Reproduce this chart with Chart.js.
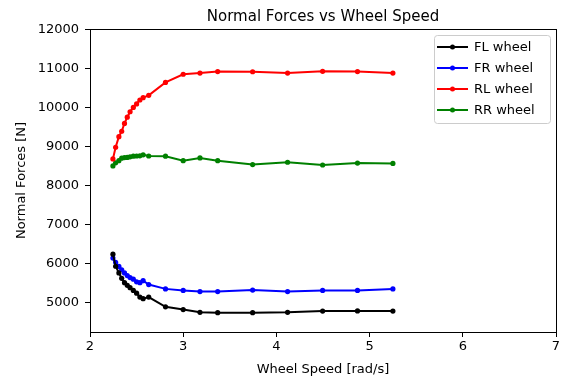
<!DOCTYPE html>
<html>
<head>
<meta charset="utf-8">
<script src="https://cdn.jsdelivr.net/npm/chart.js@4"></script>
<style>
  html, body { margin: 0; padding: 0; background: #fff; }
  #wrap { width: 565px; height: 381px; }
</style>
</head>
<body>
<div id="wrap"><canvas id="forceChart" width="565" height="381"></canvas></div>
<script>
// Wheel speed [rad/s]
const wheelSpeed = [2.246, 2.275, 2.31, 2.34, 2.37, 2.40, 2.43, 2.465, 2.50, 2.535, 2.57,
    2.63, 2.81, 3.0, 3.18, 3.37, 3.745, 4.12, 4.496, 4.87, 5.25];

// Normal forces [N]
const flWheel = [6250, 5940, 5770, 5630, 5520, 5450, 5390, 5320, 5250, 5150, 5110,
    5150, 4900, 4830, 4760, 4750, 4750, 4760, 4790, 4795, 4790];
const frWheel = [6150, 6040, 5935, 5850, 5770, 5700, 5650, 5610, 5540, 5520, 5570,
    5470, 5360, 5320, 5290, 5290, 5330, 5290, 5320, 5320, 5360];
const rlWheel = [8690, 8990, 9260, 9400, 9600, 9760, 9900, 10010, 10100, 10200, 10260,
    10320, 10650, 10860, 10890, 10930, 10925, 10890, 10935, 10930, 10890];
const rrWheel = [8510, 8590, 8645, 8710, 8725, 8730, 8745, 8760, 8765, 8770, 8795,
    8765, 8760, 8645, 8715, 8645, 8545, 8605, 8535, 8585, 8575];

const seriesLabels = ['FL wheel', 'FR wheel', 'RL wheel', 'RR wheel'];
const seriesColors = ['#000000', '#0000ff', '#ff0000', '#008000'];
const xTicks = [2, 3, 4, 5, 6, 7];
const yTicks = [5000, 6000, 7000, 8000, 9000, 10000, 11000, 12000];

const FONT = 'DejaVu Sans';

function toPoints(ys) {
    return wheelSpeed.map((x, i) => ({ x: x, y: ys[i] }));
}

// frame, title and legend the matplotlib way
const mplDecor = {
    id: 'mplDecor',
    afterDraw(chart) {
        const ctx = chart.ctx;
        const a = chart.chartArea;
        ctx.save();
        ctx.strokeStyle = '#000';
        ctx.lineWidth = 1;
        ctx.strokeRect(Math.round(a.left) + 0.5, Math.round(a.top) + 0.5,
            Math.round(a.right - a.left), Math.round(a.bottom - a.top));

        // title
        ctx.fillStyle = '#000';
        ctx.font = '15px "' + FONT + '"';
        ctx.textAlign = 'center';
        ctx.textBaseline = 'alphabetic';
        ctx.fillText('Normal Forces vs Wheel Speed', (a.left + a.right) / 2, 21);

        // legend box
        const bx = 434, by = 35, bw = 116, bh = 88;
        ctx.fillStyle = 'rgba(255,255,255,0.8)';
        ctx.strokeStyle = '#cccccc';
        ctx.beginPath();
        ctx.roundRect(bx + 0.5, by + 0.5, bw, bh, 3);
        ctx.fill();
        ctx.stroke();
        ctx.font = '13px "' + FONT + '"';
        ctx.textAlign = 'left';
        ctx.textBaseline = 'middle';
        chart.data.datasets.forEach((ds, i) => {
            const yy = by + 12 + i * 21;
            ctx.strokeStyle = ds.borderColor;
            ctx.lineWidth = 2;
            ctx.beginPath();
            ctx.moveTo(bx + 3, yy);
            ctx.lineTo(bx + 34, yy);
            ctx.stroke();
            ctx.fillStyle = ds.borderColor;
            ctx.beginPath();
            ctx.arc(bx + 18.5, yy, 2.5, 0, Math.PI * 2);
            ctx.fill();
            ctx.fillStyle = '#000';
            ctx.fillText(ds.label, bx + 40, yy + 1);
        });
        ctx.restore();
    }
};

const ctx = document.getElementById('forceChart').getContext('2d');
const forceChart = new Chart(ctx, {
    type: 'line',
    data: {
        datasets: [flWheel, frWheel, rlWheel, rrWheel].map((ys, i) => ({
            label: seriesLabels[i],
            data: toPoints(ys),
            borderColor: seriesColors[i],
            backgroundColor: seriesColors[i],
            borderWidth: 2,
            pointRadius: 2.6,
            pointHoverRadius: 2.6,
            pointBorderWidth: 0,
            tension: 0
        }))
    },
    options: {
        responsive: false,
        animation: false,
        layout: { padding: { left: 0, right: 9, top: 29, bottom: 0 } },
        plugins: {
            legend: { display: false },
            tooltip: { enabled: false }
        },
        scales: {
            x: {
                type: 'linear',
                min: 2,
                max: 7,
                afterBuildTicks: axis => { axis.ticks = xTicks.map(v => ({ value: v })); },
                afterFit: axis => { axis.height = 49; },
                grid: { drawOnChartArea: false, tickLength: 5, color: '#000' },
                border: { color: '#000' },
                ticks: {
                    color: '#000', font: { family: FONT, size: 13 }, padding: 2, maxRotation: 0,
                    callback: v => String(v)
                },
                title: {
                    display: true,
                    text: 'Wheel Speed [rad/s]',
                    color: '#000',
                    font: { family: FONT, size: 13 },
                    padding: { top: 0 }
                }
            },
            y: {
                type: 'linear',
                min: 4255,
                max: 12020,
                afterBuildTicks: axis => { axis.ticks = yTicks.map(v => ({ value: v })); },
                afterFit: axis => { axis.width = 90; },
                grid: { drawOnChartArea: false, tickLength: 5, color: '#000' },
                border: { color: '#000' },
                ticks: {
                    color: '#000', font: { family: FONT, size: 13 }, padding: 6,
                    callback: v => String(v)
                },
                title: {
                    display: true,
                    text: 'Normal Forces [N]',
                    color: '#000',
                    font: { family: FONT, size: 13 },
                    padding: { top: 14, bottom: 2 }
                }
            }
        }
    },
    plugins: [mplDecor]
});
</script>
</body>
</html>
